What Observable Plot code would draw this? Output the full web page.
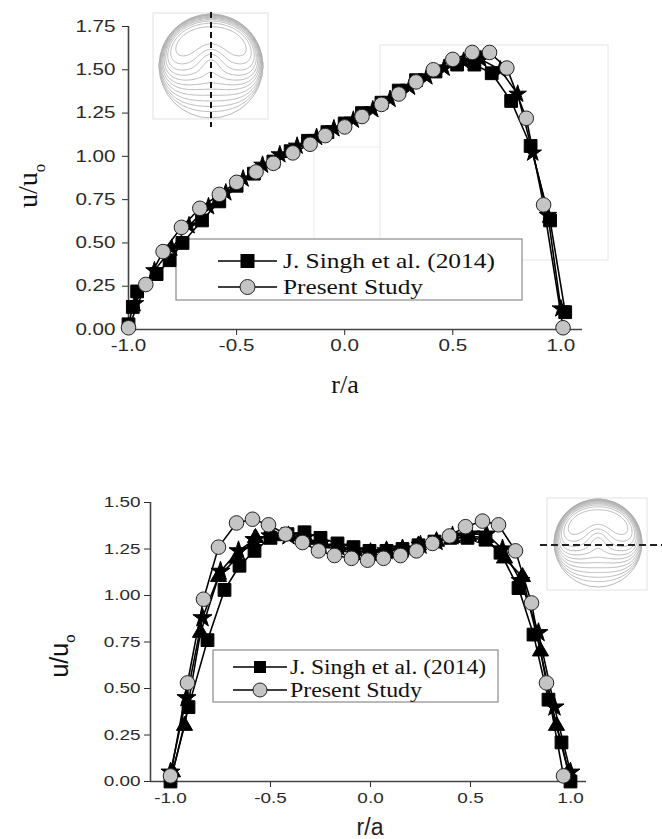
<!DOCTYPE html>
<html>
<head>
<meta charset="utf-8">
<script src="https://cdn.jsdelivr.net/npm/d3@7"></script>
<script src="https://cdn.jsdelivr.net/npm/@observablehq/plot@0.6"></script>
<style>
  html, body { margin: 0; padding: 0; background: #fff; }
  #wrap { position: relative; width: 662px; height: 839px; overflow: hidden; }
  #wrap > svg { position: absolute; left: 0; }
</style>
</head>
<body>
<div id="wrap"></div>
<script>
// ---------- DATA ----------
const legendLabels = ["J. Singh et al. (2014)", "Present Study"];
const xTicks = [-1.0, -0.5, 0.0, 0.5, 1.0];
const xTickLabels = ["-1.0", "-0.5", "0.0", "0.5", "1.0"];
const yTicksTop = [0, 0.25, 0.5, 0.75, 1.0, 1.25, 1.5, 1.75];
const yTickLabelsTop = ["0.00", "0.25", "0.50", "0.75", "1.00", "1.25", "1.50", "1.75"];
const yTicksBot = [0, 0.25, 0.5, 0.75, 1.0, 1.25, 1.5];
const yTickLabelsBot = ["0.00", "0.25", "0.50", "0.75", "1.00", "1.25", "1.50"];
const xLabel = "r/a";
const yLabelMain = "u/u";
const yLabelSub = "o";

// Top chart (vertical cut)
const topR_present = [-1.0, -0.92, -0.84, -0.755, -0.67, -0.58, -0.5, -0.41, -0.33, -0.24, -0.16, -0.09, 0.0, 0.08, 0.17, 0.25, 0.33, 0.41, 0.5, 0.59, 0.67, 0.75, 0.84, 0.92, 1.01];
const topU_present = [0.01, 0.26, 0.45, 0.59, 0.70, 0.78, 0.85, 0.91, 0.96, 1.02, 1.07, 1.12, 1.17, 1.23, 1.30, 1.36, 1.43, 1.50, 1.56, 1.60, 1.60, 1.51, 1.22, 0.72, 0.01];
const topR_singh = [-1.0, -0.98, -0.96, -0.87, -0.81, -0.75, -0.66, -0.58, -0.5, -0.42, -0.33, -0.25, -0.17, -0.08, 0.0, 0.08, 0.17, 0.25, 0.33, 0.42, 0.52, 0.6, 0.68, 0.77, 0.86, 0.95, 1.02];
const topU_singh = [0.03, 0.13, 0.22, 0.32, 0.40, 0.50, 0.63, 0.74, 0.83, 0.90, 0.97, 1.03, 1.09, 1.14, 1.19, 1.25, 1.31, 1.38, 1.44, 1.49, 1.53, 1.53, 1.48, 1.32, 1.06, 0.63, 0.10];
const topR_other = [-0.97, -0.88, -0.8, -0.72, -0.63, -0.55, -0.47, -0.38, -0.3, -0.22, -0.13, -0.05, 0.04, 0.13, 0.21, 0.3, 0.38, 0.46, 0.55, 0.63, 0.72, 0.8, 0.87, 0.94, 1.0];
const topU_other = [0.15, 0.34, 0.47, 0.60, 0.71, 0.79, 0.87, 0.95, 1.01, 1.06, 1.11, 1.16, 1.21, 1.27, 1.33, 1.40, 1.46, 1.51, 1.55, 1.56, 1.50, 1.36, 1.02, 0.66, 0.12];

// Bottom chart (horizontal cut)
const botR_present = [-1.0, -0.915, -0.835, -0.76, -0.67, -0.59, -0.51, -0.425, -0.34, -0.26, -0.18, -0.095, -0.015, 0.065, 0.15, 0.23, 0.31, 0.395, 0.475, 0.56, 0.64, 0.725, 0.805, 0.88, 0.965];
const botU_present = [0.03, 0.53, 0.98, 1.26, 1.39, 1.41, 1.38, 1.33, 1.285, 1.24, 1.215, 1.20, 1.19, 1.20, 1.215, 1.24, 1.28, 1.32, 1.37, 1.40, 1.38, 1.24, 0.96, 0.53, 0.03];
const botR_singh = [-1.0, -0.91, -0.815, -0.73, -0.655, -0.58, -0.5, -0.415, -0.33, -0.25, -0.165, -0.085, -0.005, 0.08, 0.16, 0.24, 0.32, 0.40, 0.485, 0.575, 0.65, 0.74, 0.815, 0.89, 0.955, 1.0];
const botU_singh = [0.0, 0.40, 0.76, 1.03, 1.16, 1.24, 1.31, 1.33, 1.34, 1.31, 1.28, 1.26, 1.24, 1.24, 1.25, 1.27, 1.29, 1.31, 1.31, 1.30, 1.23, 1.04, 0.79, 0.44, 0.21, 0.0];
const botR_tri = [-0.99, -0.93, -0.85, -0.76, -0.67, -0.575, -0.49, -0.41, -0.32, -0.24, -0.16, -0.08, 0.0, 0.08, 0.16, 0.24, 0.33, 0.41, 0.49, 0.575, 0.67, 0.76, 0.85, 0.93, 0.99];
const botU_tri = [0.05, 0.30, 0.80, 1.10, 1.20, 1.31, 1.32, 1.32, 1.30, 1.28, 1.26, 1.24, 1.23, 1.24, 1.25, 1.27, 1.29, 1.31, 1.32, 1.31, 1.20, 1.10, 0.70, 0.30, 0.05];
const botR_star = [-1.0, -0.92, -0.84, -0.75, -0.66, -0.58, -0.5, -0.41, -0.33, -0.25, -0.16, -0.08, 0.0, 0.08, 0.16, 0.25, 0.33, 0.41, 0.5, 0.58, 0.66, 0.75, 0.84, 0.92, 1.0];
const botU_star = [0.05, 0.45, 0.88, 1.13, 1.24, 1.30, 1.32, 1.32, 1.31, 1.28, 1.26, 1.24, 1.23, 1.24, 1.25, 1.27, 1.29, 1.32, 1.33, 1.33, 1.25, 1.08, 0.80, 0.40, 0.05];

// ---------- helpers ----------
const toRows = (rs, us) => rs.map((r, i) => ({r, u: us[i]}));
const fmt = (ticks, labels) => d => { const i = ticks.findIndex(t => Math.abs(t - d) < 1e-9); return i >= 0 ? labels[i] : ""; };
const SERIF = "'Liberation Serif', 'Times New Roman', serif";
const SANS = "'Liberation Sans', Arial, Helvetica, sans-serif";
const measureCtx = document.createElement("canvas").getContext("2d");

function seriesMarks(rows, sym, fill, stroke, r) {
  return [
    Plot.line(rows, {x: "r", y: "u", stroke: "#000", strokeWidth: 1.6}),
    Plot.dot(rows, {x: "r", y: "u", symbol: sym, fill, stroke, strokeWidth: 1, r})
  ];
}

function makeChart(cfg) {
  const svg = Plot.plot({
    width: 662, height: cfg.height,
    marginLeft: cfg.ml, marginRight: cfg.mr, marginTop: cfg.mt, marginBottom: cfg.mb,
    style: {background: "transparent", fontFamily: SANS, fontSize: cfg.fs + "px", color: "#2a2a2a", overflow: "visible"},
    x: {domain: cfg.xDomain, ticks: xTicks, tickFormat: fmt(xTicks, xTickLabels), tickSize: 6, tickPadding: 4, label: null},
    y: {domain: cfg.yDomain, ticks: cfg.yTicks, tickFormat: fmt(cfg.yTicks, cfg.yLabels), tickSize: 6, tickPadding: cfg.ypad, label: null},
    marks: [
      Plot.ruleY([cfg.yDomain[0]], {stroke: "#444", strokeWidth: 1.6}),
      Plot.ruleX([cfg.xDomain[0]], {stroke: "#444", strokeWidth: 1.6}),
      ...cfg.extra.flatMap(e => seriesMarks(e.rows, e.sym, "#000", "#000", e.r)),
      ...seriesMarks(cfg.singh, "square", "#000", "#000", 7.2),
      ...seriesMarks(cfg.present, "circle", "#c4c4c4", "#222", 7.3)
    ]
  });
  measureCtx.font = `${cfg.fs}px 'Liberation Sans', Arial, sans-serif`;
  d3.select(svg).selectAll("text").each(function() {
    const w = measureCtx.measureText(this.textContent).width;
    d3.select(this).style("font-size", cfg.fs + "px").style("font-family", SANS).attr("fill", "#2a2a2a")
      .attr("textLength", (w * cfg.stretch).toFixed(1)).attr("lengthAdjust", "spacingAndGlyphs");
  });
  return svg;
}

const wrap = d3.select("#wrap");

// ---------- decoration layer (behind plots) ----------
const deco = wrap.append("svg").attr("width", 662).attr("height", 839).style("top", "0px");

// faint frame artifacts in top panel
deco.append("rect").attr("x", 380).attr("y", 45).attr("width", 228).attr("height", 215)
  .attr("fill", "none").attr("stroke", "#e6e6e6").attr("stroke-width", 1);
deco.append("path").attr("d", "M314,300V147H380").attr("fill", "none").attr("stroke", "#ececec");

// contour insets (decorative picture of the velocity field)
function inset(box, cx, cy, R) {
  deco.append("rect").attr("x", box[0]).attr("y", box[1]).attr("width", box[2]).attr("height", box[3])
    .attr("fill", "#fff").attr("stroke", "#e2e2e2").attr("stroke-width", 1);
  const n = 90, vals = new Array(n * n);
  let mx = 0;
  for (let j = 0; j < n; j++) for (let i = 0; i < n; i++) {
    const x = -1 + 2 * (i + 0.5) / n, y = 1 - 2 * (j + 0.5) / n, rr = x * x + y * y;
    const v = rr >= 1 ? -0.2 : (1 - rr) * Math.exp(1.5 * (y + 0.9 * x * x)) * (1 - 0.35 * Math.exp(-12 * x * x) * Math.exp(-8 * (y - 0.1) * (y - 0.1)));
    vals[j * n + i] = v; if (v > mx) mx = v;
  }
  const fr = [0.04, 0.08, 0.13, 0.19, 0.26, 0.33, 0.41, 0.5, 0.6, 0.72, 0.86];
  const cs = d3.contours().size([n, n]).thresholds(fr.map(f => f * mx))(vals);
  const path = d3.geoPath(d3.geoIdentity().scale(2 * R / n).translate([cx - R, cy - R]));
  const g = deco.append("g");
  g.selectAll("path").data(cs).join("path").attr("d", path)
    .attr("fill", "none").attr("stroke", "#a8a8a8").attr("stroke-width", 0.8);
  g.append("circle").attr("cx", cx).attr("cy", cy).attr("r", R)
    .attr("fill", "none").attr("stroke", "#b0b0b0").attr("stroke-width", 0.9);
}
inset([153, 13, 115, 106], 211, 66, 52);
deco.append("line").attr("x1", 211).attr("x2", 211).attr("y1", 12).attr("y2", 127)
  .attr("stroke", "#111").attr("stroke-width", 2).attr("stroke-dasharray", "6,4");
inset([547, 498, 100, 92], 598, 543, 44);
deco.append("line").attr("x1", 540).attr("x2", 662).attr("y1", 545).attr("y2", 545)
  .attr("stroke", "#222").attr("stroke-width", 2.2).attr("stroke-dasharray", "7,4");

// legends
function legend(b) {
  deco.append("rect").attr("x", b.x).attr("y", b.y).attr("width", b.w).attr("height", b.h)
    .attr("fill", "#fff").attr("stroke", "#8a8a8a").attr("stroke-width", 1.2);
  legendLabels.forEach((lab, k) => {
    const cy = b.rows[k];
    deco.append("line").attr("x1", b.l0).attr("x2", b.l1).attr("y1", cy).attr("y2", cy)
      .attr("stroke", "#000").attr("stroke-width", 1.6);
    const mxp = (b.l0 + b.l1) / 2;
    if (k === 0) deco.append("rect").attr("x", mxp - b.sq / 2).attr("y", cy - b.sq / 2)
      .attr("width", b.sq).attr("height", b.sq).attr("fill", "#000");
    else deco.append("circle").attr("cx", mxp).attr("cy", cy).attr("r", b.cr)
      .attr("fill", "#c4c4c4").attr("stroke", "#222").attr("stroke-width", 1);
    deco.append("text").attr("x", b.tx).attr("y", cy).attr("dy", "0.34em")
      .attr("font-family", SERIF).attr("font-size", b.fs).attr("fill", "#111")
      .attr("textLength", b.tl[k]).attr("lengthAdjust", "spacingAndGlyphs").text(lab);
  });
}
legend({x: 176, y: 239, w: 346, h: 61, rows: [261, 287], l0: 218, l1: 277, tx: 283, fs: 22, tl: [212, 140], sq: 14, cr: 7.5});
legend({x: 213, y: 650, w: 285, h: 52, rows: [667, 690], l0: 233, l1: 287, tx: 290, fs: 20, tl: [196, 132], sq: 12, cr: 7});

// axis titles
function yTitle(x, y, family, fs) {
  const t = deco.append("text").attr("transform", `translate(${x},${y}) rotate(-90)`)
    .attr("text-anchor", "middle").attr("font-family", family).attr("font-size", fs).attr("fill", "#111");
  t.append("tspan").text(yLabelMain);
  t.append("tspan").attr("font-size", fs * 0.6).attr("dy", fs * 0.28).text(yLabelSub);
}
deco.append("text").attr("x", 345).attr("y", 393).attr("text-anchor", "middle")
  .attr("font-family", SERIF).attr("font-size", 26).attr("fill", "#111").text(xLabel);
yTitle(37, 186, SERIF, 28);
deco.append("text").attr("x", 370).attr("y", 835).attr("text-anchor", "middle")
  .attr("font-family", SANS).attr("font-size", 23).attr("fill", "#222").text(xLabel);
yTitle(68, 656, SANS, 25);

// ---------- plots ----------
const topChart = makeChart({
  height: 400, ml: 128, mr: 80, mt: 26, mb: 71, ypad: 7, fs: 16.5, stretch: 1.25,
  xDomain: [-1.0, 1.1], yDomain: [0, 1.75], yTicks: yTicksTop, yLabels: yTickLabelsTop,
  present: toRows(topR_present, topU_present), singh: toRows(topR_singh, topU_singh),
  extra: [{rows: toRows(topR_other, topU_other), sym: "star", r: 5.5}]
});
topChart.style.top = "0px";
wrap.node().appendChild(topChart);

const botChart = makeChart({
  height: 389, ml: 150, mr: 76, mt: 52, mb: 58, ypad: 4, fs: 15.5, stretch: 1.22,
  xDomain: [-1.1, 1.08], yDomain: [0, 1.5], yTicks: yTicksBot, yLabels: yTickLabelsBot,
  present: toRows(botR_present, botU_present), singh: toRows(botR_singh, botU_singh),
  extra: [{rows: toRows(botR_tri, botU_tri), sym: "triangle", r: 6}, {rows: toRows(botR_star, botU_star), sym: "star", r: 6}]
});
botChart.style.top = "450px";
wrap.node().appendChild(botChart);
</script>
</body>
</html>
